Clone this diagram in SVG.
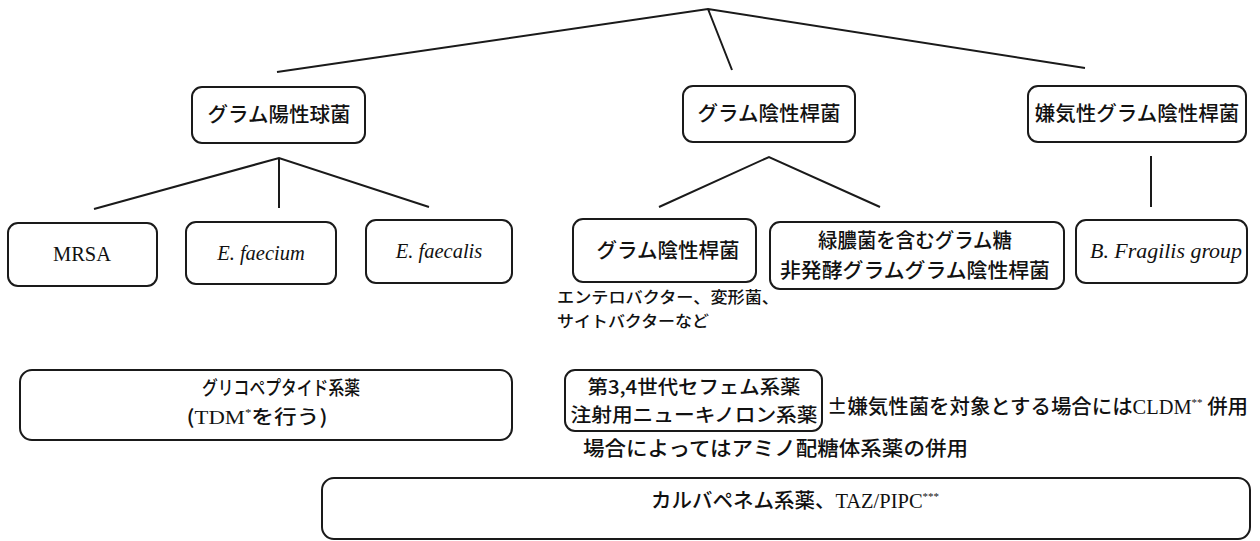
<svg xmlns="http://www.w3.org/2000/svg" width="1260" height="541" viewBox="0 0 1260 541">
<style>
.box{fill:#fff;stroke:#1a1a1a;stroke-width:2}
.ln{stroke:#1a1a1a;stroke-width:2;fill:none}
.jp{font-family:"Noto Sans CJK JP","Noto Sans CJK SC",sans-serif;font-size:20.5px;font-weight:500;fill:#111}
.j19{font-size:19px}
.j195{font-size:19.5px}
.sm{font-size:16px}
.lat{font-family:"Liberation Serif",serif;font-weight:normal}
.it{font-family:"Liberation Serif",serif;font-size:20.5px;font-style:italic;fill:#111}
.rm{font-family:"Liberation Serif",serif;font-size:20.5px;fill:#111}
.sup{font-family:"Liberation Serif",serif;font-size:11px;font-weight:normal}
</style>
<rect width="1260" height="541" fill="#fff"/>
<g id="connectors">
<path class="ln" d="M277 72 L708 9 L1085 68 M708 9 L732 70"/>
<path class="ln" d="M94 209 L279 158 L429 207 M279 158 L279 208"/>
<path class="ln" d="M659 207 L769 157 L880 207"/>
<path class="ln" d="M1151 156 L1151 207"/>
</g>
<g id="n-gp"><rect class="box" x="192" y="87" width="173" height="56" rx="10"/><text class="jp" x="279" y="122" text-anchor="middle">グラム陽性球菌</text></g>
<g id="n-gn"><rect class="box" x="683" y="86" width="172" height="56" rx="10"/><text class="jp" x="769" y="121" text-anchor="middle">グラム陰性桿菌</text></g>
<g id="n-an"><rect class="box" x="1028" y="86" width="218" height="56" rx="10"/><text class="jp" x="1137" y="121" text-anchor="middle">嫌気性グラム陰性桿菌</text></g>
<g id="n-mrsa"><rect class="box" x="8" y="223" width="149" height="63" rx="10"/><text class="rm" x="82" y="261" text-anchor="middle">MRSA</text></g>
<g id="n-faecium"><rect class="box" x="186" y="222" width="150" height="62" rx="10"/><text class="it" x="261" y="260" text-anchor="middle">E. faecium</text></g>
<g id="n-faecalis"><rect class="box" x="366" y="220" width="146" height="63" rx="10"/><text class="it" x="439" y="258" text-anchor="middle">E. faecalis</text></g>
<g id="n-gn2"><rect class="box" x="573" y="219" width="183" height="63" rx="10"/><text class="jp" x="668" y="258" text-anchor="middle">グラム陰性桿菌</text></g>
<g id="n-pseudo"><rect class="box" x="770" y="222" width="294" height="67" rx="10"/><text class="jp" x="915" y="248" text-anchor="middle" textLength="194" lengthAdjust="spacingAndGlyphs">緑膿菌を含むグラム糖</text><text class="jp" x="915" y="278" text-anchor="middle" textLength="270" lengthAdjust="spacingAndGlyphs">非発酵グラムグラム陰性桿菌</text></g>
<g id="n-bfrag"><rect class="box" x="1076" y="220" width="171" height="63" rx="10"/><text class="it" x="1166" y="258" text-anchor="middle" textLength="152" lengthAdjust="spacingAndGlyphs">B. Fragilis group</text></g>
<g id="note-entero"><text class="jp sm" x="557" y="303" textLength="222" lengthAdjust="spacingAndGlyphs">エンテロバクター、変形菌、</text><text class="jp sm" x="557" y="327" textLength="152" lengthAdjust="spacingAndGlyphs">サイトバクターなど</text></g>
<g id="n-glyco"><rect class="box" x="20" y="370" width="492" height="70" rx="12"/><text class="jp j195" x="281" y="395" text-anchor="middle" textLength="158" lengthAdjust="spacingAndGlyphs">グリコペプタイド系薬</text><text class="jp j195" x="257" y="424" text-anchor="middle" textLength="141" lengthAdjust="spacingAndGlyphs">(<tspan class="lat">TDM</tspan><tspan class="sup" dy="-8">*</tspan><tspan dy="8">を行う)</tspan></text></g>
<g id="n-ceph"><rect class="box" x="565" y="370" width="257" height="61" rx="10"/><text class="jp j19" x="694" y="394" text-anchor="middle" textLength="213" lengthAdjust="spacingAndGlyphs">第3,4世代セフェム系薬</text><text class="jp j19" x="694" y="422" text-anchor="middle" textLength="247" lengthAdjust="spacingAndGlyphs">注射用ニューキノロン系薬</text></g>
<g id="note-cldm"><text class="jp" x="827" y="414" textLength="421" lengthAdjust="spacingAndGlyphs">±嫌気性菌を対象とする場合には<tspan class="lat">CLDM</tspan><tspan class="sup" dy="-8">**</tspan><tspan dy="8"> 併用</tspan></text></g>
<g id="note-amino"><text class="jp" x="583" y="456" textLength="385" lengthAdjust="spacingAndGlyphs">場合によってはアミノ配糖体系薬の併用</text></g>
<g id="n-carba"><rect class="box" x="322" y="478" width="928" height="61" rx="12"/><text class="jp" x="795" y="508" text-anchor="middle">カルバペネム系薬、<tspan class="lat">TAZ/PIPC</tspan><tspan class="sup" dy="-8">***</tspan></text></g>
</svg>
